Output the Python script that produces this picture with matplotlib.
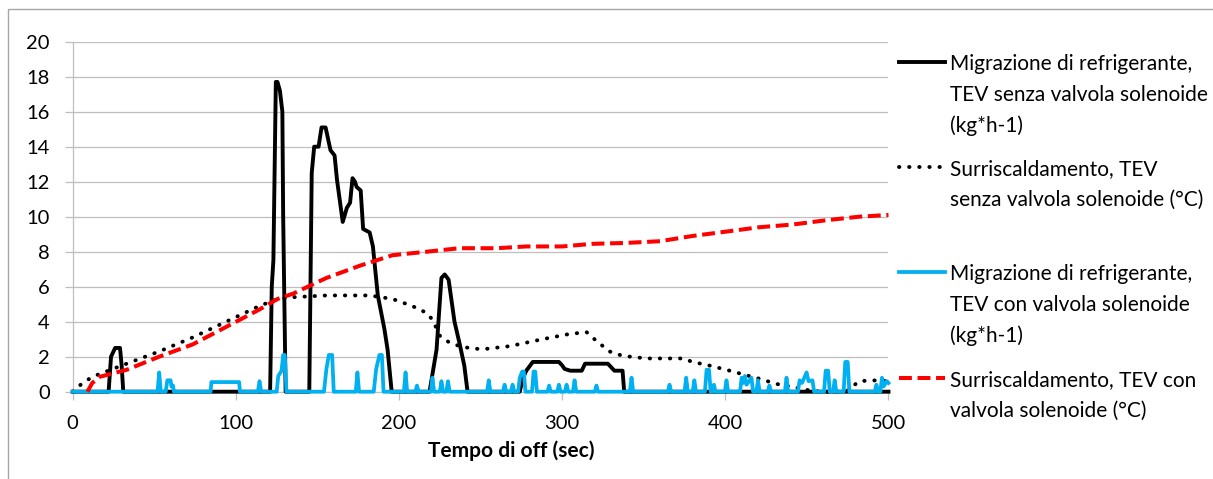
import matplotlib.pyplot as plt
from matplotlib.lines import Line2D
from matplotlib.patches import Rectangle

W, H = 1213, 479

# Migrazione di refrigerante, TEV senza valvola solenoide (kg*h-1)
mig_senza_t = [0, 22, 23.5, 25, 26, 29, 30, 31, 121, 122, 123, 124.5, 125.5, 127, 128.5, 129, 130.5,
               145, 146.5, 148, 150.7, 152.5, 155, 158, 160.5, 162, 165.5, 168, 170, 171.5, 173, 174,
               176.5, 178, 182, 184, 187, 191, 193, 195.5, 218.7, 223, 226, 228, 230.4, 234, 237, 240,
               242, 274, 276, 278, 282, 298, 300, 301.5, 305, 312, 314, 328, 332, 337, 338, 500]
mig_senza_v = [0, 0, 2.0, 2.3, 2.5, 2.5, 1.5, 0, 0, 6.0, 7.5, 17.7, 17.7, 17.2, 16.0, 10, 0,
               0, 12.5, 14.0, 14.0, 15.1, 15.1, 13.8, 13.5, 12.1, 9.7, 10.5, 10.8, 12.2, 12.0, 11.7,
               11.5, 9.3, 9.1, 8.3, 5.5, 3.6, 2.4, 0, 0, 2.4, 6.5, 6.7, 6.4, 4.0, 2.8, 1.5,
               0, 0, 0.8, 1.2, 1.7, 1.7, 1.5, 1.3, 1.2, 1.2, 1.6, 1.6, 1.2, 1.2, 0, 0]

# Surriscaldamento, TEV senza valvola solenoide (°C)
surr_senza_t = [0, 5.5, 12, 33, 53, 73.5, 94, 114.5, 125.6, 135, 155.5, 182, 196, 208, 217, 220.6,
                225, 231, 239, 248, 253.6, 267.7, 288, 304.5, 315, 321, 329, 337, 351.7, 373.8, 380,
                390, 400.7, 410.5, 421, 431, 441, 450, 458, 474, 482, 490, 500]
surr_senza_v = [0, 0.45, 0.85, 1.6, 2.3, 3.1, 4.0, 4.9, 5.3, 5.4, 5.5, 5.5, 5.3, 4.9, 4.5, 4.1,
                3.2, 2.8, 2.55, 2.45, 2.45, 2.6, 3.0, 3.3, 3.4, 2.9, 2.3, 2.05, 1.9, 1.9, 1.7,
                1.5, 1.25, 1.0, 0.74, 0.45, 0.28, 0.1, 0, 0, 0.6, 0.65, 0.6]

# Migrazione di refrigerante, TEV con valvola solenoide (kg*h-1)
mig_con_t = [0, 52, 53, 54, 57, 58, 60, 60.5, 61.5, 62, 84.5, 85, 102, 102.5, 113.5, 114.5, 115.5,
             125, 126, 128, 129, 130, 131, 154, 155.5, 157, 159, 160, 173.5, 174.5, 175.5,
             184.5, 186, 188, 189.5, 190.5, 203, 204, 205, 210, 211, 212, 219.5, 220.5, 221.5,
             225, 226, 227, 229, 230, 231, 254, 255, 256, 263.7, 264.7, 265.7, 268.6, 269.6, 270.6,
             273, 274, 275.5, 276.5, 277.5, 281.5, 282.5, 283.5, 284.5, 291, 292, 293, 297, 298, 299,
             301.7, 302.7, 303.7, 306.6, 307.6, 308.6, 320, 321, 322, 341.5, 342.5, 343.5,
             364.8, 365.8, 366.8, 375, 376, 377, 380, 381, 382, 387.5, 388.5, 390, 391, 392, 393, 394,
             399.7, 400.7, 401.7, 409, 410, 411, 412, 413, 416, 417, 419, 420, 421, 426, 427, 428,
             436.5, 437.5, 438.5, 444.5, 445.5, 447, 449.8, 451, 453.4, 454.4, 460.5, 461.5, 463, 464,
             466, 467, 468, 472.5, 473.5, 475, 476, 491.6, 492.6, 493.6, 495, 496, 497, 499, 500]
mig_con_v = [0, 0, 1.1, 0, 0, 0.65, 0.65, 0.3, 0.35, 0, 0, 0.55, 0.55, 0, 0, 0.6, 0,
             0, 0.9, 1.2, 2.1, 2.1, 0, 0, 1.3, 2.1, 2.1, 0, 0, 1.1, 0,
             0, 1.3, 2.1, 2.1, 0, 0, 1.1, 0, 0, 0.35, 0, 0, 0.8, 0,
             0, 0.6, 0, 0, 0.6, 0, 0, 0.65, 0, 0, 0.4, 0, 0, 0.4, 0,
             0, 0.8, 1.15, 1.15, 0, 0, 1.15, 1.15, 0, 0, 0.35, 0, 0, 0.4, 0,
             0, 0.4, 0, 0, 0.65, 0, 0, 0.35, 0, 0, 0.8, 0,
             0, 0.4, 0, 0, 0.8, 0, 0, 0.65, 0, 0, 1.25, 1.25, 0, 0, 0.4, 0,
             0, 0.65, 0, 0, 0.8, 0.5, 0.9, 0.4, 0.8, 0, 0, 0.65, 0, 0, 0.35, 0,
             0, 0.8, 0, 0, 0.65, 0.5, 1.1, 0.6, 0.65, 0, 0, 1.2, 1.2, 0,
             0, 0.65, 0, 0, 1.7, 1.7, 0, 0, 0.4, 0, 0, 0.8, 0.3, 0.6, 0.5]

# Surriscaldamento, TEV con valvola solenoide (°C)
surr_con_t = [9, 12, 16.5, 33, 53, 73.5, 94, 114.5, 125.6, 135, 155.5, 176, 196, 217, 237, 260,
              278, 300, 318.6, 339, 360, 380, 400.7, 421, 441, 462, 482, 500]
surr_con_v = [0, 0.5, 0.85, 1.25, 2.0, 2.7, 3.7, 4.7, 5.3, 5.6, 6.5, 7.2, 7.8, 8.0, 8.2, 8.2,
              8.3, 8.3, 8.45, 8.5, 8.6, 8.9, 9.15, 9.4, 9.55, 9.8, 10.0, 10.1]

labels = ["Migrazione di refrigerante,\nTEV senza valvola solenoide\n(kg*h-1)",
          "Surriscaldamento, TEV\nsenza valvola solenoide (°C)",
          "Migrazione di refrigerante,\nTEV con valvola solenoide\n(kg*h-1)",
          "Surriscaldamento, TEV con\nvalvola solenoide (°C)"]

plt.rcParams['font.family'] = ['Lato', 'DejaVu Sans']
grey = '#bfbfbf'

fig = plt.figure(figsize=(W / 100, H / 100), dpi=100)
ax = fig.add_axes([72.7 / W, 1 - 391.7 / H, 815.8 / W, 350 / H])

styles = [
    dict(color='black', lw=2.8, linestyle='-', solid_joinstyle='round'),
    dict(color='black', lw=2.8, linestyle=(0, (0.1, 2.5)), dash_capstyle='round'),
    dict(color='#00b0f0', lw=2.7, linestyle='-', solid_joinstyle='round'),
    dict(color='#ff0000', lw=2.9, linestyle=(0, (3.2, 1.4))),
]
series = [(mig_senza_t, mig_senza_v), (surr_senza_t, surr_senza_v),
          (mig_con_t, mig_con_v), (surr_con_t, surr_con_v)]
for i, ((t, v), st) in enumerate(zip(series, styles)):
    ax.plot(t, v, clip_on=False, zorder=3 + i, **st)

ax.set_xlim(0, 500)
ax.set_ylim(0, 20)
ax.set_xticks(range(0, 501, 100))
ax.set_yticks(range(0, 21, 2))
ax.grid(axis='y', color=grey, lw=0.9)
ax.set_axisbelow(True)
for s in ['top', 'right']:
    ax.spines[s].set_visible(False)
for s in ['left', 'bottom']:
    ax.spines[s].set_color(grey)
    ax.spines[s].set_linewidth(0.9)
ax.tick_params(direction='out', length=5.5, width=0.9, color=grey, labelsize=14.5, pad=11)
ax.set_xlabel('Tempo di off (sec)', fontweight='bold', fontsize=15)
ax.xaxis.set_label_coords(0.537, -0.14)

# legend on the right, handle next to the first line of each label
first_y = [62, 167, 272, 378]
step = 31
for lab, st, y0 in zip(labels, styles, first_y):
    fig.add_artist(Line2D([899 / W, 945 / W], [1 - y0 / H] * 2, transform=fig.transFigure, **st))
    for k, line in enumerate(lab.split('\n')):
        fig.text(950 / W, 1 - (y0 + k * step) / H, line, fontsize=15,
                 ha='left', va='center_baseline')

# chart frame
fig.add_artist(Rectangle((7.5 / W, -0.1), 1.2, 1.1 - 8.5 / H, transform=fig.transFigure,
                         fill=False, ec='#a6a6a6', lw=1))

fig.savefig('out.png', dpi=100)
